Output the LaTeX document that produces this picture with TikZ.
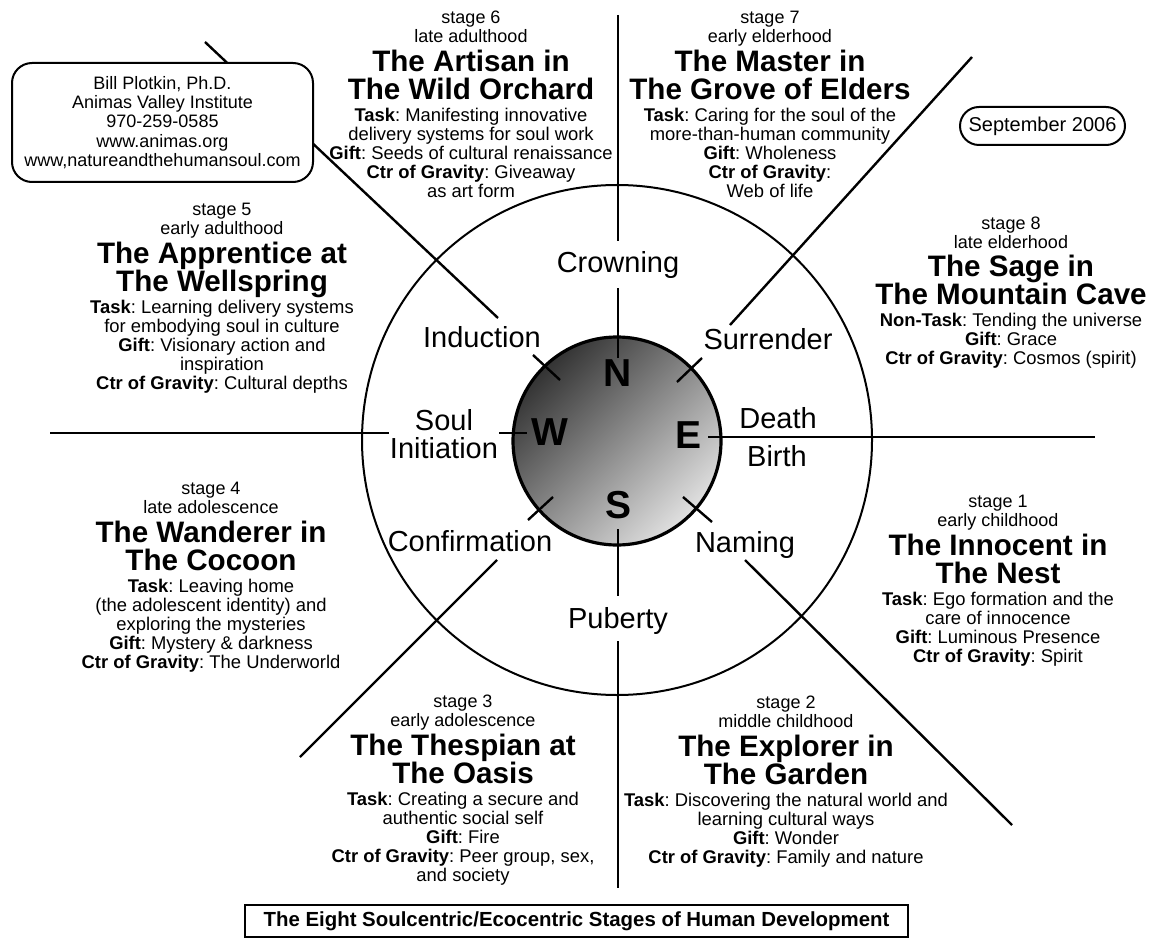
\documentclass[tikz,border=0pt]{standalone}
\usepackage{fontspec}
\setmainfont{Liberation Sans}
\frenchspacing
\usetikzlibrary{positioning,calc}

\begin{document}
\begin{tikzpicture}[x=0.5pt, y=-0.5pt, line width=1.2pt,
    ring/.style={font=\fontsize{14.5}{14}\selectfont, inner sep=0pt, anchor=base},
    compass/.style={font=\fontsize{19.5}{19.5}\selectfont\bfseries, inner sep=0pt},
    stghead/.style={align=center, anchor=north, inner sep=0pt, font=\fontsize{9}{9.5}\selectfont, execute at end node={\vphantom{y}}},
    stgtitle/.style={align=center, inner sep=0pt, font=\fontsize{14.8}{14}\selectfont\bfseries, execute at end node={\vphantom{y}}},
    stgbody/.style={align=center, inner sep=0pt, font=\fontsize{9.2}{9.5}\selectfont},
    infobox/.style={draw, fill=white, line width=1pt, align=center}]
  \path[use as bounding box, fill=white] (0,0) rectangle (1151,941);

  % axes and ring
  \coordinate (ctr) at (617,441);
  \coordinate (nTop) at (618,15);
  \coordinate (sBot) at (618,888);
  \coordinate (wEnd) at (50,433);
  \coordinate (eEnd) at (1095,437);
  \draw[line width=1pt] (617,440) circle[radius=127.5pt];

  \node[circle, draw, line width=1.6pt, minimum size=104pt, inner sep=0pt,
        top color=black!80, bottom color=black!12, shading angle=45] (hub) at (ctr) {};
  \node[compass] (nN) at (618,373) {N};
  \node[compass] (nW) at (550,432) {W};
  \node[compass] (nE) at (688,435) {E};
  \node[compass] (nS) at (618,505) {S};

  \node[ring] (crown) at (618,273) {Crowning};
  \node[ring] (induct) at (482,347) {Induction};
  \node[ring] (surr) at (768,350) {Surrender};
  \node[ring, anchor=center, align=center] (soul) at (444,434) {Soul\\Initiation};
  \node[ring] (death) at (778,428) {Death};
  \node[ring] (birth) at (777,466) {Birth};
  \node[ring] (confirm) at (470,551) {Confirmation};
  \node[ring] (naming) at (745,552) {Naming};
  \node[ring] (puberty) at (618,628) {Puberty};

  \draw (nTop) -- ([yshift=5pt]crown.north);
  \draw ([yshift=-4pt]crown.south) -- (nN.north);
  \draw ([yshift=-4.5pt]nS.south) -- ([yshift=5pt]puberty.north);
  \draw ([yshift=-3pt]puberty.south) -- (sBot);
  \draw (wEnd) -- (soul.west |- wEnd);
  \draw (soul.east |- wEnd) -- ($(nW.west |- wEnd)+(-1.5pt,0)$);
  \draw ($(nE.east |- eEnd)+(3pt,0)$) -- (eEnd);

  % diagonals
  \draw (205,42) -- (498,318);
  \draw (533,355) -- (560,380);
  \draw (972,57) -- (730,325);
  \draw (677,382) -- (702,358);
  \draw (745,560) -- (1012,825);
  \draw (683,497) -- (712,522);
  \draw (497,560) -- (300,757);
  \draw (528,520) -- (553,497);

  % stages
  \node[stghead] (s1h) at (998,494) {stage 1\\early childhood};
  \node[stgtitle, below=0.5pt of s1h] (s1t) {The Innocent in\\The Nest};
  \node[stgbody, below=0pt of s1t] (s1b) {\textbf{Task}: Ego formation and the\\care of innocence\\\textbf{Gift}: Luminous Presence\\\textbf{Ctr of Gravity}: Spirit};

  \node[stghead] (s2h) at (786,695) {stage 2\\middle childhood};
  \node[stgtitle, below=0.5pt of s2h] (s2t) {The Explorer in\\The Garden};
  \node[stgbody, below=0pt of s2t] (s2b) {\textbf{Task}: Discovering the natural world and\\learning cultural ways\\\textbf{Gift}: Wonder\\\textbf{Ctr of Gravity}: Family and nature};

  \node[stghead] (s3h) at (463,694) {stage 3\\early adolescence};
  \node[stgtitle, below=0.5pt of s3h] (s3t) {The Thespian at\\The Oasis};
  \node[stgbody, below=0pt of s3t] (s3b) {\textbf{Task}: Creating a secure and\\authentic social self\\\textbf{Gift}: Fire\\\textbf{Ctr of Gravity}: Peer group, sex,\\and society};

  \node[stghead] (s4h) at (211,481) {stage 4\\late adolescence};
  \node[stgtitle, below=0.5pt of s4h] (s4t) {The Wanderer in\\The Cocoon};
  \node[stgbody, below=0pt of s4t] (s4b) {\textbf{Task}: Leaving home\\(the adolescent identity) and\\exploring the mysteries\\\textbf{Gift}: Mystery \& darkness\\\textbf{Ctr of Gravity}: The Underworld};

  \node[stghead] (s5h) at (222,202) {stage 5\\early adulthood};
  \node[stgtitle, below=0.5pt of s5h] (s5t) {The Apprentice at\\The Wellspring};
  \node[stgbody, below=0pt of s5t] (s5b) {\textbf{Task}: Learning delivery systems\\for embodying soul in culture\\\textbf{Gift}: Visionary action and\\inspiration\\\textbf{Ctr of Gravity}: Cultural depths};

  \node[stghead] (s6h) at (471,10) {stage 6\\late adulthood};
  \node[stgtitle, below=0.5pt of s6h] (s6t) {The Artisan in\\The Wild Orchard};
  \node[stgbody, below=0pt of s6t] (s6b) {\textbf{Task}: Manifesting innovative\\delivery systems for soul work\\\textbf{Gift}: Seeds of cultural renaissance\\\textbf{Ctr of Gravity}: Giveaway\\as art form};

  \node[stghead] (s7h) at (770,10) {stage 7\\early elderhood};
  \node[stgtitle, below=0.5pt of s7h] (s7t) {The Master in\\The Grove of Elders};
  \node[stgbody, below=0pt of s7t] (s7b) {\textbf{Task}: Caring for the soul of the\\more-than-human community\\\textbf{Gift}: Wholeness\\\textbf{Ctr of Gravity}:\\Web of life};

  \node[stghead] (s8h) at (1011,216) {stage 8\\late elderhood};
  \node[stgtitle, below=0pt of s8h] (s8t) {The Sage in\\The Mountain Cave};
  \node[stgbody, below=0pt of s8t] (s8b) {\textbf{Non-Task}: Tending the universe\\\textbf{Gift}: Grace\\\textbf{Ctr of Gravity}: Cosmos (spirit)};

  % boxes
  \node[infobox, rounded corners=10pt, minimum width=150.5pt, minimum height=59.5pt,
        font=\fontsize{9}{9.6}\selectfont] (inst) at (162.5,122.5)
        {Bill Plotkin, Ph.D.\\Animas Valley Institute\\970-259-0585\\www.animas.org\\www,natureandthehumansoul.com};
  \node[draw, line width=1pt, rounded corners=9.5pt, minimum width=82.5pt, minimum height=19pt,
        font=\fontsize{10}{10}\selectfont] (date) at (1042.5,126) {September 2006};
  \node[draw, line width=1pt, minimum width=331.5pt, minimum height=16pt,
        font=\fontsize{10.2}{10.2}\selectfont\bfseries] (caption) at (576.5,921)
        {The Eight Soulcentric/Ecocentric Stages of Human Development};
\end{tikzpicture}
\end{document}
